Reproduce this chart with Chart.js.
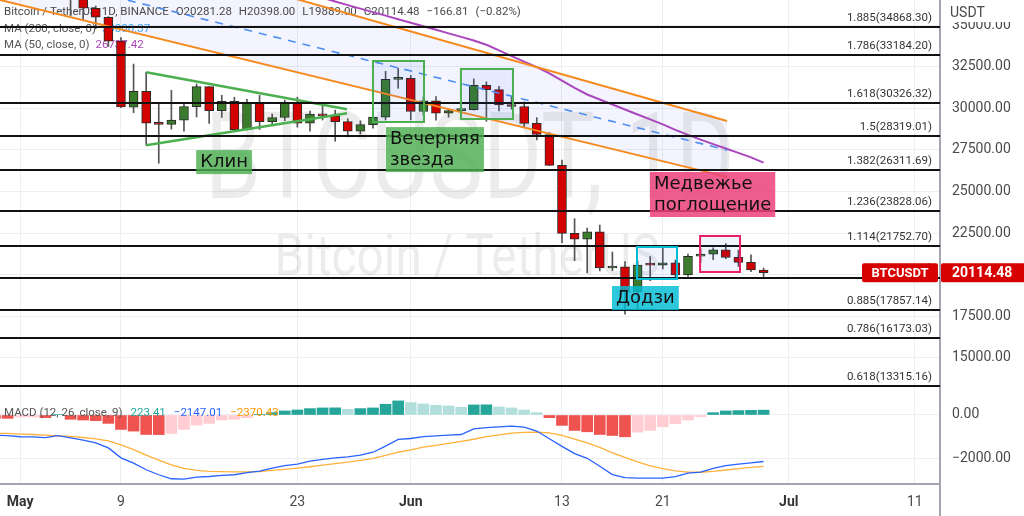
<!DOCTYPE html>
<html>
<head>
<meta charset="utf-8">
<script src="https://cdn.jsdelivr.net/npm/chart.js@4.4.0/dist/chart.umd.min.js"></script>
<style>
  html, body { margin: 0; padding: 0; background: #fff; }
  #wrap { position: relative; width: 1024px; height: 516px; overflow: hidden; }
  canvas { position: absolute; left: 0; display: block; }
  #main { top: 0; }
  #macd { top: 398px; }
</style>
</head>
<body>
<div id="wrap">
  <canvas id="main" width="1024" height="398"></canvas>
  <canvas id="macd" width="1024" height="118"></canvas>
</div>
<script>
// days counted from May 1 (= 0)
var tickDays = [0, 8, 22, 31, 43, 51, 61, 71];
var tickNames = ['May', '9', '23', 'Jun', '13', '21', 'Jul', '11'];
var monthNames = ['May', 'Jun', 'Jul'];
var priceTicks = [15000, 17500, 20000, 22500, 25000, 27500, 30000, 32500, 35000];
var macdTicks = [-2000, 0];

// daily candles, May 5 .. Jun 29
var candleDays = [4, 5, 6, 7, 8, 9, 10, 11, 12, 13, 14, 15, 16, 17, 18, 19, 20, 21, 22, 23, 24, 25, 26, 27, 28, 29,
  30, 31, 32, 33, 34, 35, 36, 37, 38, 39, 40, 41, 42, 43, 44, 45, 46, 47, 48, 49, 50, 51, 52, 53, 54, 55, 56, 57, 58, 59];
var openP = [39690, 36552, 36013, 35472, 34038, 30074, 31017, 29103, 29030, 29287, 30098, 31305, 29862, 30425, 28715, 30319,
  29201, 29445, 30293, 29110, 29655, 29542, 29202, 28625, 29020, 29469, 31734, 31801, 29805, 30452, 29700, 29864, 29919,
  31373, 31125, 30204, 30109, 29091, 28424, 26574, 22485, 22136, 22583, 20400, 20468, 18970, 20574, 20574, 20720, 19988,
  21110, 21237, 21491, 21038, 20742, 20281.28];
var highP = [39845, 36675, 36146, 35514, 34243, 32658, 32162, 30300, 31083, 30343, 31460, 31308, 30788, 30666, 30545, 30777,
  29656, 30487, 30670, 29827, 30223, 29886, 29370, 29250, 29600, 32222, 32399, 31982, 30689, 30699, 29955, 30189, 31765,
  31589, 31327, 30700, 30382, 29440, 28544, 26895, 23362, 22800, 22980, 21365, 20792, 20815, 21090, 21723, 20880, 21233,
  21558, 21614, 21868, 21478, 21200, 20398];
var lowP = [35571, 35258, 34785, 33713, 30033, 29730, 27785, 26700, 28751, 28630, 29480, 29087, 29450, 28654, 28693, 28730,
  28947, 29255, 28866, 28632, 29294, 28020, 28282, 28450, 28811, 29299, 31200, 29301, 29594, 29282, 29467, 29531, 29890,
  29218, 29843, 29944, 28850, 28099, 26560, 21925, 20846, 20111, 20232, 20246, 17622, 17960, 19637, 20348, 19770, 19890,
  20740, 20906, 20960, 20500, 20188, 19889];
var closeP = [36552, 36013, 35472, 34039, 30076, 31017, 29103, 29029, 29287, 30096, 31305, 29862, 30425, 28715, 30319, 29201,
  29445, 30293, 29110, 29655, 29542, 29202, 28625, 29020, 29469, 31734, 31801, 29805, 30452, 29700, 29864, 29919, 31373,
  31125, 30204, 30109, 29091, 28424, 26574, 22487, 22136, 22583, 20401, 20468, 18970, 20574, 20573, 20720, 19987, 21110,
  21237, 21491, 21038, 20742, 20281.28, 20114.48];
var lastPrice = 20114.48;

// MA 50
var maDays = [23, 24, 25, 26, 27, 28, 29, 30, 31, 32, 33, 34, 35, 36, 37, 38, 39, 40, 41, 42, 43, 44, 45, 46, 47, 48, 49,
  50, 51, 52, 53, 54, 55, 56, 57, 58, 59];
var ma50 = [36860, 36640, 36420, 36200, 35990, 35780, 35570, 35350, 35140, 34930, 34720, 34500, 34290, 34070, 33820, 33480,
  33140, 32800, 32470, 32100, 31660, 31230, 30830, 30530, 30230, 29930, 29630, 29330, 29030, 28700, 28400, 28120, 27850,
  27580, 27320, 27050, 26737.42];

// drawn channel and wedge (day, price)
var chanDays = [-3, 56.1];
var chanTop = [41913, 29237];
var chanBottom = [36766, 25877];
var chanMid = [38682, 27487];
var wedgeDays = [10, 25.94];
var wedgeTop = [32162, 29940];
var wedgeBottom = [27785, 29700];

// fibonacci extension
var fibLevels = [0.618, 0.786, 0.885, 1, 1.114, 1.236, 1.382, 1.5, 1.618, 1.786, 1.885];
var fibPrices = [13315.16, 16173.03, 17857.14, 19813.42, 21752.70, 23828.06, 26311.69, 28319.01, 30326.32, 33184.20, 34868.30];

// MACD (12, 26, close, 9), Apr 29 .. Jun 29
var macdDays = [-2, -1, 0, 1, 2, 3, 4, 5, 6, 7, 8, 9, 10, 11, 12, 13, 14, 15, 16, 17, 18, 19, 20, 21, 22, 23, 24, 25, 26,
  27, 28, 29, 30, 31, 32, 33, 34, 35, 36, 37, 38, 39, 40, 41, 42, 43, 44, 45, 46, 47, 48, 49, 50, 51, 52, 53, 54, 55, 56,
  57, 58, 59];
var macdLine = [-940, -950, -1005, -1015, -1045, -950, -1060, -1160, -1290, -1520, -1980, -2220, -2530, -2760, -2945,
  -2960, -2870, -2840, -2790, -2760, -2660, -2590, -2450, -2340, -2265, -2130, -2050, -1985, -1930, -1850, -1720, -1440,
  -1130, -1085, -1000, -960, -930, -900, -640, -580, -545, -512, -560, -740, -1100, -1450, -1780, -2000, -2370, -2750,
  -2890, -2915, -2915, -2915, -2850, -2680, -2640, -2470, -2340, -2270, -2210, -2147.01];
var signalLine = [-840, -853, -880, -900, -930, -960, -990, -1040, -1100, -1190, -1380, -1600, -1850, -2080, -2300, -2470,
  -2560, -2600, -2620, -2630, -2630, -2610, -2560, -2510, -2450, -2390, -2320, -2250, -2180, -2100, -2000, -1860, -1720,
  -1610, -1480, -1400, -1310, -1220, -1120, -1000, -920, -840, -800, -790, -830, -946, -1110, -1290, -1500, -1750, -1960,
  -2170, -2350, -2480, -2580, -2640, -2645, -2600, -2540, -2480, -2420, -2370.43];
var histValues = [-150, -155, -93, -90, -124, 25, -200, -232, -263, -387, -667, -744, -900, -905, -852, -667, -465, -387,
  -232, -200, -124, 15, 108, 186, 232, 295, 325, 330, 263, 295, 325, 496, 651, 573, 511, 450, 418, 356, 465, 470, 372, 325,
  232, 108, -124, -480, -713, -775, -900, -945, -1008, -790, -713, -543, -403, -233, -78, 108, 186, 205, 215, 223.41];

var GRID = '#eceef1';
var AXIS = '#a3a6ad';
var UP = '#3b7b2c';
var DOWN = '#d20000';

Chart.defaults.font.family = 'Roboto, sans-serif';
Chart.defaults.color = '#4a4a4a';

function pts(xs, ys) {
  return xs.map(function(x, i){ return { x: x, y: ys[i] }; });
}

function isMonthTick(c) {
  if (!c || !c.tick) return false;
  return monthNames.indexOf(tickNames[tickDays.indexOf(c.tick.value)]) >= 0;
}

function xAxis(labels) {
  return {
    type: 'linear', min: -1.6, max: 73, offset: false, bounds: 'data',
    grid: { color: GRID, drawTicks: false, offset: false },
    border: { display: labels, color: AXIS, width: 2 },
    ticks: {
      display: labels, autoSkip: false, maxRotation: 0, minRotation: 0, padding: 10,
      callback: function(v){ var k = tickDays.indexOf(v); return k >= 0 ? tickNames[k] : ''; },
      color: function(c){ return isMonthTick(c) ? '#333' : '#4a4a4a'; },
      font: function(c){ return { size: 14, weight: isMonthTick(c) ? 'bold' : 'normal' }; }
    },
    afterBuildTicks: function(s){ s.ticks = tickDays.map(function(v){ return { value: v }; }); },
    afterFit: function(s){ s.height = labels ? 32 : 0; s.paddingLeft = 0; s.paddingRight = 0; }
  };
}

function yAxis(min, max, ticks, fmt) {
  return {
    type: 'linear', position: 'right', min: min, max: max, bounds: 'data', beginAtZero: false,
    grid: { color: GRID, drawTicks: false },
    border: { display: true, color: AXIS, width: 2 },
    ticks: { padding: 12, font: { size: 14 }, callback: fmt },
    afterBuildTicks: function(s){ s.ticks = ticks.map(function(v){ return { value: v }; }); },
    afterFit: function(s){ s.width = 84; s.paddingTop = 0; s.paddingBottom = 0; }
  };
}

// stretched watermark text
function watermark(ctx, text, size, cx, base, w) {
  ctx.font = size + 'px Roboto';
  var m = ctx.measureText(text).width;
  ctx.save();
  ctx.translate(cx - w / 2, base);
  ctx.scale(w / m, 1);
  ctx.fillText(text, 0, 0);
  ctx.restore();
}

// pieces of legend text written one after another
function legendRow(ctx, x, y, parts, gap) {
  parts.forEach(function(p){
    ctx.fillStyle = p[1];
    ctx.fillText(p[0], x, y);
    x += ctx.measureText(p[0]).width + gap;
  });
}

var rects = [
  { d0: 28.0, p0: 32843, d1: 32.05, p1: 29177, color: '#4caf50' },
  { d0: 34.98, p0: 32362, d1: 39.11, p1: 29357, color: '#4caf50' },
  { d0: 48.95, p0: 21665, d1: 52.13, p1: 19742, color: '#00bcd4' },
  { d0: 53.96, p0: 22326, d1: 57.13, p1: 20163, color: '#e91e63' }
];
var notes = [
  { d: 13.97, p: 27488, lines: ['Клин'], bg: 'rgba(76,175,80,0.82)' },
  { d: 29.03, p: 28870, lines: ['Вечерняя', 'звезда'], bg: 'rgba(76,175,80,0.82)' },
  { d: 49.98, p: 26172, lines: ['Медвежье', 'поглощение'], bg: 'rgba(236,64,122,0.85)' },
  { d: 46.97, p: 19321, lines: ['Додзи'], bg: 'rgba(0,188,212,0.82)' }
];

var mainDraw = {
  id: 'mainDraw',
  beforeDatasetsDraw: function(chart) {
    var ctx = chart.ctx;
    ctx.save();
    ctx.textAlign = 'left';
    ctx.textBaseline = 'alphabetic';
    ctx.fillStyle = 'rgba(0,0,0,0.075)';
    watermark(ctx, 'BTCUSDT, 1D', 120, 470, 198, 530);
    watermark(ctx, 'Bitcoin / TetherUS', 58, 467, 275, 385);

    ctx.font = '11.5px Roboto';
    ctx.textBaseline = 'middle';
    legendRow(ctx, 4, 12.5, [['Bitcoin / TetherUS, 1D, BINANCE', '#4a4a4a'], ['O20281.28', '#4a4a4a'],
      ['H20398.00', '#4a4a4a'], ['L19889.00', '#4a4a4a'], ['C20114.48', '#4a4a4a'], ['−166.81', '#4a4a4a'],
      ['(−0.82%)', '#4a4a4a']], 7);
    legendRow(ctx, 4, 29, [['MA (200, close, 0)', '#555'], ['39000.37', '#42a5f5']], 6);
    legendRow(ctx, 4, 45, [['MA (50, close, 0)', '#555'], ['26737.42', '#ab47bc']], 6);
    ctx.restore();
  },
  afterDatasetsDraw: function(chart) {
    var ctx = chart.ctx, a = chart.chartArea;
    var xs = chart.scales.x, ys = chart.scales.y;
    ctx.save();
    // fib levels
    ctx.strokeStyle = '#111';
    ctx.lineWidth = 2;
    ctx.font = '11.5px Roboto';
    ctx.textAlign = 'right';
    ctx.textBaseline = 'alphabetic';
    fibLevels.forEach(function(lv, i){
      var y = Math.round(ys.getPixelForValue(fibPrices[i]));
      ctx.beginPath();
      ctx.moveTo(a.left, y);
      ctx.lineTo(a.right, y);
      ctx.stroke();
      ctx.fillStyle = '#333';
      ctx.fillText(lv + '(' + fibPrices[i].toFixed(2) + ')', a.right - 8, y - 6);
    });

    // rectangles
    rects.forEach(function(r){
      var x0 = xs.getPixelForValue(r.d0), x1 = xs.getPixelForValue(r.d1);
      var y0 = ys.getPixelForValue(r.p0), y1 = ys.getPixelForValue(r.p1);
      ctx.fillStyle = 'rgba(41,98,255,0.07)';
      ctx.fillRect(x0, y0, x1 - x0, y1 - y0);
      ctx.strokeStyle = r.color;
      ctx.lineWidth = 2;
      ctx.strokeRect(x0, y0, x1 - x0, y1 - y0);
    });

    // text notes
    ctx.font = '18px "DejaVu Sans"';
    ctx.textAlign = 'left';
    ctx.textBaseline = 'middle';
    notes.forEach(function(n){
      var x = xs.getPixelForValue(n.d), y = ys.getPixelForValue(n.p);
      var w = Math.max.apply(null, n.lines.map(function(t){ return ctx.measureText(t).width; }));
      var h = n.lines.length * 21 + 3;
      ctx.fillStyle = n.bg;
      ctx.fillRect(x, y, w + 8, h);
      ctx.fillStyle = '#111';
      n.lines.forEach(function(t, i){ ctx.fillText(t, x + 4, y + 12 + i * 21); });
    });
    ctx.restore();
  },
  afterDraw: function(chart) {
    var ctx = chart.ctx, a = chart.chartArea;
    var y = chart.scales.y.getPixelForValue(lastPrice);
    ctx.save();
    ctx.fillStyle = '#d60000';
    ctx.beginPath(); ctx.roundRect(a.right - 78, y - 9.5, 76, 19, 2); ctx.fill();
    ctx.beginPath(); ctx.roundRect(a.right + 1, y - 9.5, 84, 19, 2); ctx.fill();
    ctx.fillStyle = '#fff';
    ctx.font = 'bold 13px Roboto';
    ctx.textBaseline = 'middle';
    ctx.textAlign = 'center';
    ctx.fillText('BTCUSDT', a.right - 40, y + 0.5);
    ctx.textAlign = 'left';
    ctx.font = 'bold 14px Roboto';
    ctx.fillText(lastPrice.toFixed(2), a.right + 12, y + 0.5);

    ctx.fillStyle = '#fff';
    ctx.fillRect(a.right + 2, 0, 90, 22);
    ctx.fillStyle = '#4a4a4a';
    ctx.font = '14px Roboto';
    ctx.fillText('USDT', a.right + 10, 13);
    ctx.restore();
  }
};

new Chart(document.getElementById('main'), {
  type: 'bar',
  data: {
    datasets: [
      { type: 'line', data: pts(chanDays, chanTop), borderColor: '#f68a1e', borderWidth: 2, pointRadius: 0,
        fill: '+1', backgroundColor: 'rgba(98,110,225,0.075)' },
      { type: 'line', data: pts(chanDays, chanBottom), borderColor: '#f68a1e', borderWidth: 2, pointRadius: 0, fill: false },
      { type: 'line', data: pts(chanDays, chanMid), borderColor: '#4d8ff0', borderWidth: 1.6, borderDash: [8, 7],
        pointRadius: 0, fill: false },
      { type: 'line', data: pts(wedgeDays, wedgeTop), borderColor: '#4caf50', borderWidth: 2.5, pointRadius: 0, fill: false },
      { type: 'line', data: pts(wedgeDays, wedgeBottom), borderColor: '#4caf50', borderWidth: 2.5, pointRadius: 0, fill: false },
      { type: 'line', data: pts(maDays, ma50), borderColor: '#ab47bc', borderWidth: 2, pointRadius: 0, fill: false },
      { type: 'bar', grouped: false, barThickness: 9, minBarLength: 2,
        data: candleDays.map(function(d, i){ return { x: d, y: [openP[i], closeP[i]] }; }),
        backgroundColor: candleDays.map(function(d, i){ return closeP[i] >= openP[i] ? UP : DOWN; }),
        borderColor: '#2b2b2b', borderWidth: 1, borderSkipped: false },
      { type: 'bar', grouped: false, barThickness: 1,
        data: candleDays.map(function(d, i){ return { x: d, y: [lowP[i], highP[i]] }; }),
        backgroundColor: '#555' }
    ]
  },
  options: {
    responsive: false, animation: false, devicePixelRatio: 1, events: [],
    layout: { padding: 0, autoPadding: false },
    plugins: { legend: { display: false }, tooltip: { enabled: false }, filler: { drawTime: 'beforeDatasetsDraw' } },
    scales: {
      x: xAxis(false),
      y: yAxis(12590, 36508, priceTicks, function(v){ return v.toFixed(2); })
    }
  },
  plugins: [mainDraw]
});

var histColors = histValues.map(function(v, i){
  var prev = i > 0 ? histValues[i - 1] : v + 1;
  if (v >= 0) return v >= prev ? '#26a69a' : '#b2dfdb';
  return v < prev ? '#ef5350' : '#ffcdd2';
});

var macdDraw = {
  id: 'macdDraw',
  afterDatasetsDraw: function(chart) {
    var ctx = chart.ctx;
    ctx.save();
    ctx.font = '11.5px Roboto';
    ctx.textBaseline = 'middle';
    ctx.textAlign = 'left';
    legendRow(ctx, 4, 15, [['MACD (12, 26, close, 9)', '#555'], ['223.41', '#26a69a'], ['−2147.01', '#2962ff'],
      ['−2370.43', '#ff9800']], 8);
    ctx.restore();
  },
  afterDraw: function(chart) {
    var ctx = chart.ctx, a = chart.chartArea;
    ctx.save();
    ctx.strokeStyle = AXIS;
    ctx.lineWidth = 2;
    ctx.beginPath();
    ctx.moveTo(a.right, a.bottom);
    ctx.lineTo(a.right, chart.height);
    ctx.stroke();
    ctx.restore();
  }
};

new Chart(document.getElementById('macd'), {
  type: 'bar',
  data: {
    datasets: [
      { type: 'line', data: pts(macdDays, macdLine), borderColor: '#2962ff', borderWidth: 1.3, pointRadius: 0, fill: false },
      { type: 'line', data: pts(macdDays, signalLine), borderColor: '#ffb13b', borderWidth: 1.3, pointRadius: 0, fill: false },
      { type: 'bar', grouped: false, barThickness: 11, data: pts(macdDays, histValues), backgroundColor: histColors }
    ]
  },
  options: {
    responsive: false, animation: false, devicePixelRatio: 1, events: [],
    layout: { padding: 0, autoPadding: false },
    plugins: { legend: { display: false }, tooltip: { enabled: false } },
    scales: {
      x: xAxis(true),
      y: yAxis(-3187, 785, macdTicks, function(v){ return v === 0 ? '0.00' : '−' + Math.abs(v).toFixed(2); })
    }
  },
  plugins: [macdDraw]
});
</script>
</body>
</html>
